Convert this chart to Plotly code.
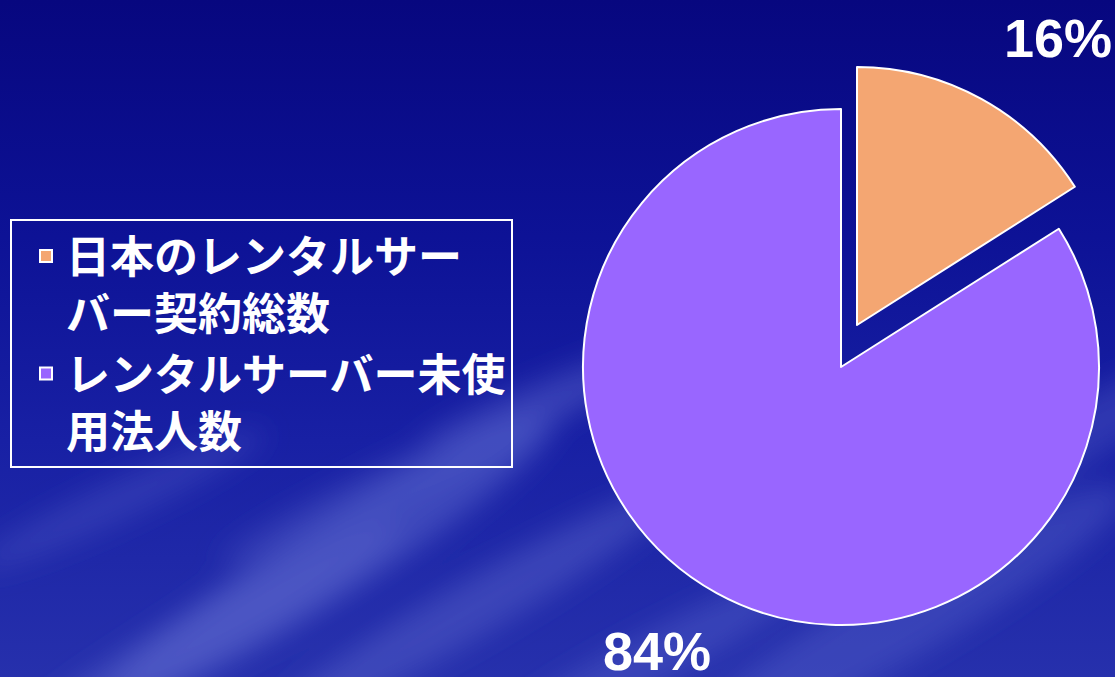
import base64
import plotly.graph_objects as go

# ---- data ----
labels = ["日本のレンタルサー<br>バー契約総数", "レンタルサーバー未使<br>用法人数"]
values = [16, 84]
colors = ["#F4A672", "#9966FF"]
label_text = [f"{v}%" for v in values]

W, H = 1115, 677

# ---- background (dark blue sky with clouds) ----
svg = f"""<svg xmlns='http://www.w3.org/2000/svg' width='{W}' height='{H}' viewBox='0 0 {W} {H}'>
<defs>
<linearGradient id='g' x1='0' y1='0' x2='0' y2='1'>
<stop offset='0' stop-color='#07077f'/>
<stop offset='0.35' stop-color='#0d1296'/>
<stop offset='0.65' stop-color='#1820a4'/>
<stop offset='1' stop-color='#2630ac'/>
</linearGradient>
<filter id='b' x='-50%' y='-50%' width='200%' height='200%'><feGaussianBlur stdDeviation='14'/></filter>
</defs>
<rect width='{W}' height='{H}' fill='url(#g)'/>
<g filter='url(#b)' fill='#5a64cc'>
<ellipse cx='330' cy='560' rx='260' ry='38' transform='rotate(-32 330 560)' opacity='0.55'/>
<ellipse cx='200' cy='640' rx='230' ry='30' transform='rotate(-30 200 640)' opacity='0.45'/>
<ellipse cx='470' cy='610' rx='240' ry='28' transform='rotate(-30 470 610)' opacity='0.45'/>
<ellipse cx='420' cy='470' rx='220' ry='22' transform='rotate(-25 420 470)' opacity='0.35'/>
<ellipse cx='120' cy='500' rx='160' ry='20' transform='rotate(-25 120 500)' opacity='0.3'/>
<ellipse cx='560' cy='390' rx='150' ry='18' transform='rotate(-22 560 390)' opacity='0.35'/>
<ellipse cx='900' cy='620' rx='260' ry='40' transform='rotate(-30 900 620)' opacity='0.4'/>
<ellipse cx='1050' cy='450' rx='200' ry='30' transform='rotate(-30 1050 450)' opacity='0.35'/>
<ellipse cx='650' cy='660' rx='200' ry='26' transform='rotate(-28 650 660)' opacity='0.4'/>
</g>
</svg>"""
bg_uri = "data:image/svg+xml;base64," + base64.b64encode(svg.encode("utf-8")).decode("ascii")

R = 258
cxA, cyA = 841, 367   # main pie centre (px)
cxB, cyB = W - R, 325  # exploded slice centre (px)


def dom(cx, cy):
    return dict(x=[(cx - R) / W, (cx + R) / W],
                y=[1 - (cy + R) / H, 1 - (cy - R) / H])


common = dict(labels=labels, values=values, sort=False, direction="clockwise",
              rotation=0, textinfo="none", hoverinfo="label+percent")

fig = go.Figure()
# legend source (hidden behind the purple slice)
fig.add_trace(go.Pie(**common, name="legend",
                     marker=dict(colors=colors, line=dict(color="white", width=2)),
                     domain=dict(x=[0.74, 0.745], y=[0.2, 0.205]), showlegend=True))
# main pie: purple slice
fig.add_trace(go.Pie(**common, name="main",
                     marker=dict(colors=["rgba(0,0,0,0)", colors[1]],
                                 line=dict(color=["rgba(0,0,0,0)", "white"], width=2)),
                     domain=dom(cxA, cyA), showlegend=False))
# exploded orange slice
fig.add_trace(go.Pie(**common, name="exploded",
                     marker=dict(colors=[colors[0], "rgba(0,0,0,0)"],
                                 line=dict(color=["white", "rgba(0,0,0,0)"], width=2)),
                     domain=dom(cxB, cyB), showlegend=False))

fig.add_annotation(x=1058 / W, y=1 - 38 / H, xref="paper", yref="paper",
                   xanchor="center", yanchor="middle",
                   text=f"<b>{label_text[0]}</b>", showarrow=False,
                   font=dict(family="Liberation Sans, Arial", size=54, color="white"))
fig.add_annotation(x=657 / W, y=1 - 651 / H, xref="paper", yref="paper",
                   xanchor="center", yanchor="middle",
                   text=f"<b>{label_text[1]}</b>", showarrow=False,
                   font=dict(family="Liberation Sans, Arial", size=54, color="white"))

fig.update_layout(
    width=W, height=H,
    margin=dict(l=0, r=0, t=0, b=0, autoexpand=False),
    paper_bgcolor="#0d1296",
    plot_bgcolor="rgba(0,0,0,0)",
    images=[dict(source=bg_uri, xref="paper", yref="paper", x=0, y=1,
                 sizex=1, sizey=1, sizing="stretch", layer="below",
                 xanchor="left", yanchor="top")],
    legend=dict(x=10 / W, y=1 - 219 / H, xanchor="left", yanchor="top",
                bgcolor="rgba(0,0,0,0)", bordercolor="white", borderwidth=2,
                valign="top", indentation=14,
                font=dict(family="Noto Sans CJK JP", size=44, color="white",
                          weight="bold")),
)

fig.write_html("out.html", config={"displayModeBar": False},
               post_script="document.body.style.margin='0';document.body.style.overflow='hidden';")
